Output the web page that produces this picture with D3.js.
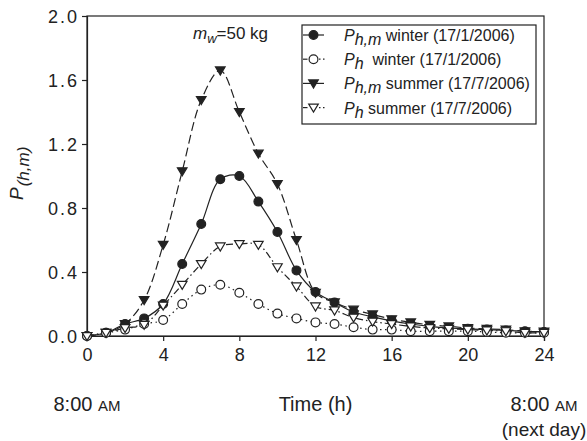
<!DOCTYPE html>
<html>
<head>
<meta charset="utf-8">
<script src="https://cdn.jsdelivr.net/npm/d3@7"></script>
<style>
  body { margin: 0; background: #fff; }
  svg { display: block; font-family: "Liberation Sans", Arial, sans-serif; }
</style>
</head>
<body>
<svg id="chart" width="587" height="441"></svg>
<script>
const hours = [0,1,2,3,4,5,6,7,8,9,10,11,12,13,14,15,16,17,18,19,20,21,22,23,24];
const phmWinter = [0, 0.02, 0.075, 0.11, 0.20, 0.45, 0.70, 0.98, 1.00, 0.84, 0.65, 0.41, 0.275, 0.21, 0.15, 0.12, 0.095, 0.075, 0.06, 0.05, 0.045, 0.04, 0.035, 0.03, 0.025];
const phWinter  = [0, 0.02, 0.04, 0.075, 0.10, 0.20, 0.29, 0.32, 0.27, 0.20, 0.14, 0.11, 0.085, 0.075, 0.055, 0.04, 0.04, 0.03, 0.03, 0.03, 0.03, 0.025, 0.02, 0.02, 0.02];
const phmSummer = [0, 0.02, 0.075, 0.225, 0.57, 1.03, 1.475, 1.66, 1.40, 1.14, 0.95, 0.60, 0.27, 0.21, 0.165, 0.135, 0.105, 0.085, 0.07, 0.06, 0.05, 0.045, 0.04, 0.03, 0.027];
const phSummer  = [0, 0.02, 0.05, 0.07, 0.19, 0.32, 0.45, 0.56, 0.575, 0.57, 0.43, 0.31, 0.185, 0.16, 0.115, 0.09, 0.075, 0.06, 0.05, 0.045, 0.04, 0.035, 0.03, 0.02, 0.02];
const xTicks = [0,4,8,12,16,20,24];
const yTicks = [0,0.4,0.8,1.2,1.6,2.0];

(function(){
const svg = d3.select("#chart");
const pL = 87, pR = 544, pT = 16, pB = 336;
const x = d3.scaleLinear().domain([0,24]).range([pL,pR]);
const y = d3.scaleLinear().domain([0,2]).range([pB,pT]);
const ink = "#222";

svg.append("rect").attr("x",pL).attr("y",pT).attr("width",pR-pL).attr("height",pB-pT)
  .attr("fill","none").attr("stroke",ink).attr("stroke-width",1.2);

const xAxis = svg.append("g").attr("transform",`translate(0,${pB})`)
  .call(d3.axisBottom(x).tickValues(xTicks).tickSize(5).tickPadding(7).tickFormat(d3.format("d")));
const yAxis = svg.append("g").attr("transform",`translate(${pL},0)`)
  .call(d3.axisLeft(y).tickValues(yTicks).tickSize(5).tickPadding(5).tickFormat(d3.format(".1f")));
[xAxis,yAxis].forEach(a=>{
  a.select(".domain").attr("stroke",ink).attr("stroke-width",1.2);
  a.selectAll(".tick line").attr("stroke",ink).attr("stroke-width",1.2);
  a.selectAll(".tick text").attr("fill",ink).attr("font-size",18).attr("font-family","Liberation Sans, Arial, sans-serif");
});
yAxis.selectAll(".tick text").attr("textLength",29).attr("lengthAdjust","spacing").attr("dy","0.38em");

const series = [
  {values:phmWinter, dash:null, symbol:"circle", fill:ink, legendDash:null},
  {values:phmSummer, dash:"9,4", symbol:"tri", fill:ink, legendDash:null},
  {values:phWinter, dash:"1.5,3.5", symbol:"circle", fill:"#fff", legendDash:"dot"},
  {values:phSummer, dash:"7,3,1.5,3", symbol:"tri", fill:"#fff", legendDash:"dot"},
];

const line = d3.line().x((d,i)=>x(hours[i])).y(d=>y(d)).curve(d3.curveCatmullRom.alpha(0.5));

function triPath(s){
  return `M${-s},${-s*0.72}L${s},${-s*0.72}L0,${s*0.95}Z`;
}
function drawMarker(g, sr, cx, cy){
  if (sr.symbol === "tri") {
    g.append("path").attr("d",triPath(4.8)).attr("transform",`translate(${cx},${cy})`)
      .attr("fill",sr.fill).attr("stroke",ink).attr("stroke-width",1.2);
  } else {
    g.append("circle").attr("cx",cx).attr("cy",cy).attr("r",4.4)
      .attr("fill",sr.fill).attr("stroke",ink).attr("stroke-width",1.2);
  }
}

series.forEach(sr=>{
  svg.append("path").datum(sr.values).attr("d",line)
    .attr("fill","none").attr("stroke",ink).attr("stroke-width",1.2)
    .attr("stroke-dasharray",sr.dash);
});
series.forEach(sr=>{
  const g = svg.append("g");
  sr.values.forEach((v,i)=>drawMarker(g, sr, x(hours[i]), y(v)));
});

const ann = svg.append("text").attr("x",193).attr("y",39).attr("font-size",17).attr("fill",ink);
ann.append("tspan").attr("font-style","italic").text("m");
ann.append("tspan").attr("font-style","italic").attr("font-size",13).attr("dy",4).text("w");
ann.append("tspan").attr("dy",-4).text("=50 kg");

const lg = svg.append("g");
lg.append("rect").attr("x",302).attr("y",25).attr("width",234).attr("height",99)
  .attr("fill","#fff").attr("stroke",ink).attr("stroke-width",1.2);
const legendItems = [
  {sr:series[0], sub:"h,m", label:" winter (17/1/2006)"},
  {sr:series[2], sub:"h", label:"  winter (17/1/2006)"},
  {sr:series[1], sub:"h,m", label:" summer (17/7/2006)"},
  {sr:series[3], sub:"h", label:" summer (17/7/2006)"},
];
legendItems.forEach((it,i)=>{
  const cy = 35 + i*24.2;
  if (it.sr.legendDash) {
    lg.append("line").attr("x1",303).attr("x2",307.5).attr("y1",cy).attr("y2",cy).attr("stroke",ink).attr("stroke-width",1.2);
    lg.append("line").attr("x1",319).attr("x2",327).attr("y1",cy).attr("y2",cy).attr("stroke",ink).attr("stroke-width",1.2).attr("stroke-dasharray","1.5,2.5");
  } else {
    lg.append("line").attr("x1",303).attr("x2",324).attr("y1",cy).attr("y2",cy).attr("stroke",ink).attr("stroke-width",1.2);
  }
  drawMarker(lg, it.sr, 313.5, cy);
  const t = lg.append("text").attr("x",344).attr("y",cy+6).attr("font-size",16).attr("fill",ink)
    .style("white-space","pre");
  t.append("tspan").attr("font-style","italic").text("P");
  t.append("tspan").attr("font-style","italic").attr("dy",4).text(it.sub);
  t.append("tspan").attr("dy",-4).text(it.label);
});

const yl = svg.append("text").attr("transform","translate(23,200) rotate(-90)").attr("font-size",19).attr("fill",ink);
yl.append("tspan").attr("font-style","italic").text("P");
yl.append("tspan").attr("font-style","italic").attr("font-size",17).attr("dy",6).attr("dx",1).text("(h,m)");

function ampm(cx){
  const t = svg.append("text").attr("x",cx).attr("y",411).attr("text-anchor","middle").attr("font-size",20).attr("fill",ink);
  t.append("tspan").text("8:00 ");
  t.append("tspan").attr("font-size",15).text("AM");
}
ampm(x(0)); ampm(x(24));
svg.append("text").attr("x",(pL+pR)/2).attr("y",411).attr("text-anchor","middle").attr("font-size",20).attr("fill",ink).text("Time (h)");
svg.append("text").attr("x",x(24)).attr("y",436).attr("text-anchor","middle").attr("font-size",19).attr("fill",ink).text("(next day)");
})();
</script>
</body>
</html>
